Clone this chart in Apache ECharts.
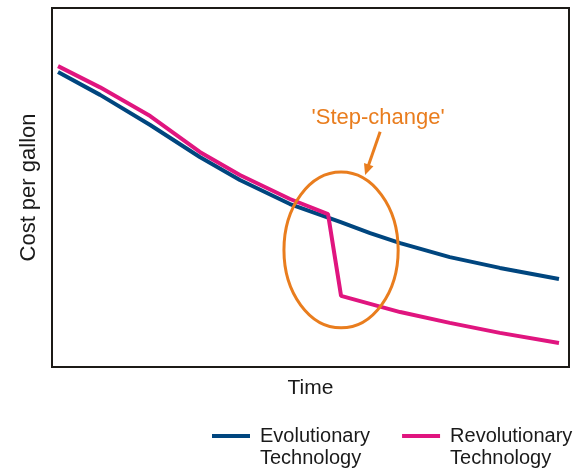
<!DOCTYPE html>
<html>
<head>
<meta charset="utf-8">
<script src="https://cdn.jsdelivr.net/npm/echarts@6/dist/echarts.min.js"></script>
<style>
html,body{margin:0;padding:0;background:#fff;}
#main{width:584px;height:470px;}
</style>
</head>
<body>
<div id="main"></div>
<script>
// Data (time and cost in arbitrary units, 0-100)
const seriesNames = ['Evolutionary Technology', 'Revolutionary Technology'];
const timeEvo = [0, 8.4, 18.4, 28.3, 36.3, 46.3, 56.3, 62.3, 68.3, 78.2, 88.2, 100];
const costEvo = [82.2, 75.8, 67.4, 58.5, 52.1, 45.4, 40.4, 37.3, 34.5, 30.6, 27.6, 24.5];
const timeRev = [0, 8.4, 18.4, 28.3, 36.3, 46.3, 53.9, 56.5, 68.3, 78.2, 88.2, 100];
const costRev = [83.8, 77.9, 69.9, 59.9, 53.5, 46.8, 42.6, 19.8, 15.3, 12.3, 9.5, 6.7];
const annotationText = "'Step-change'";
const xAxisName = 'Time';
const yAxisName = 'Cost per gallon';

const FONT = "'Liberation Sans', Arial, sans-serif";
const ORANGE = '#e97d1e';

const chart = echarts.init(document.getElementById('main'));
const pairs = (xs, ys) => xs.map((x, i) => [x, ys[i]]);

chart.setOption({
  animation: false,
  backgroundColor: '#fff',
  grid: {
    left: 52, top: 8, right: 15, bottom: 103,
    show: true, borderWidth: 2, borderColor: '#1c1a17', backgroundColor: 'transparent'
  },
  xAxis: {
    type: 'value', min: -1.2, max: 102,
    name: xAxisName, nameLocation: 'middle', nameGap: 11,
    nameTextStyle: { fontFamily: FONT, fontSize: 21, color: '#1a1a1a' },
    axisLine: { show: false }, axisTick: { show: false },
    axisLabel: { show: false }, splitLine: { show: false }
  },
  yAxis: {
    type: 'value', min: 0, max: 100,
    name: yAxisName, nameLocation: 'middle', nameGap: 12,
    nameTextStyle: { fontFamily: FONT, fontSize: 22, color: '#1a1a1a' },
    axisLine: { show: false }, axisTick: { show: false },
    axisLabel: { show: false }, splitLine: { show: false }
  },
  legend: {
    left: 212, top: 425, padding: 0, itemGap: 32,
    itemWidth: 38, itemHeight: 26,
    icon: 'path://M0,0H38V4H0Z M0,26H38',
    itemStyle: { borderWidth: 0 },
    formatter: n => n.replace(' ', '\n'),
    textStyle: { fontFamily: FONT, fontSize: 20, lineHeight: 22, color: '#1a1a1a', padding: [0, 0, 0, 5] },
    data: seriesNames
  },
  series: [
    {
      name: seriesNames[0], type: 'line', showSymbol: false, symbol: 'none',
      color: '#00467f', lineStyle: { width: 4, color: '#00467f' },
      data: pairs(timeEvo, costEvo), z: 2
    },
    {
      name: seriesNames[1], type: 'line', showSymbol: false, symbol: 'none',
      color: '#e0157f', lineStyle: { width: 4, color: '#e0157f' },
      data: pairs(timeRev, costRev), z: 3
    }
  ]
});

// Annotation: ellipse around the step, arrow and label (positions in data units)
function px(p) { return chart.convertToPixel({ gridIndex: 0 }, p); }
const c = px([56.5, 32.6]);
const ex = px([56.5 + 11.4, 32.6]);
const ey = px([56.5, 32.6 + 21.7]);
const rx = ex[0] - c[0], ry = c[1] - ey[1];
const a0 = px([64.3, 65.5]);
const a1 = px([61.3, 53.5]);
const dx = a1[0] - a0[0], dy = a1[1] - a0[1];
const len = Math.hypot(dx, dy), ux = dx / len, uy = dy / len;
const headLen = 11, headW = 5;
const base = [a1[0] - ux * headLen, a1[1] - uy * headLen];
const tpos = px([63.9, 69.4]);

chart.setOption({
  graphic: [
    { type: 'ellipse', z: 10, shape: { cx: c[0], cy: c[1], rx: rx, ry: ry },
      style: { fill: 'none', stroke: ORANGE, lineWidth: 3 } },
    { type: 'line', z: 10, shape: { x1: a0[0], y1: a0[1], x2: base[0] + ux * 2, y2: base[1] + uy * 2 },
      style: { stroke: ORANGE, lineWidth: 3 } },
    { type: 'polygon', z: 10, shape: { points: [
        [a1[0], a1[1]],
        [base[0] - uy * headW, base[1] + ux * headW],
        [base[0] + uy * headW, base[1] - ux * headW]
      ] }, style: { fill: ORANGE } },
    { type: 'text', z: 10, x: tpos[0], y: tpos[1],
      style: { text: annotationText, fill: ORANGE, font: '22px ' + FONT, align: 'center', verticalAlign: 'middle' } }
  ]
});
</script>
</body>
</html>
